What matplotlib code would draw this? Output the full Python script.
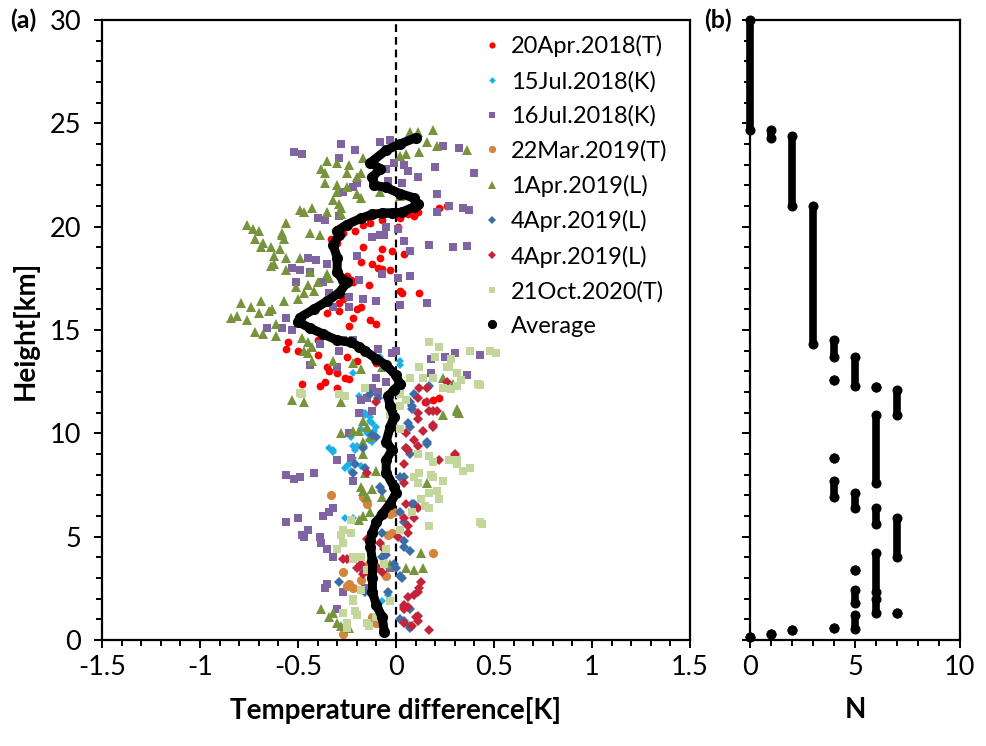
import matplotlib
matplotlib.use('Agg')
import matplotlib.pyplot as plt
import numpy as np

plt.rcParams['font.family'] = ['Lato', 'DejaVu Sans']

# ---- panel (a): temperature difference (K) vs height (km) per sounding ----
apr20_2018 = np.array([
    (0.22, 20.9), (0.26, 21.0), (0.11, 20.7), (0.06, 20.6), (0.09, 20.5), (0.02, 20.4), (-0.07, 20.3),
    (-0.13, 20.2), (-0.17, 20.1), (-0.21, 19.8), (-0.27, 19.7), (0.01, 20.0), (-0.33, 19.4), (-0.30, 19.2),
    (-0.17, 19.0), (-0.07, 18.9), (-0.02, 18.8), (0.04, 18.7), (-0.08, 18.5), (-0.18, 18.3), (-0.12, 18.2),
    (-0.09, 18.0), (-0.07, 17.95), (-0.03, 17.9), (-0.25, 17.6), (-0.23, 17.4), (-0.14, 17.2), (-0.22, 17.3),
    (0.02, 16.9), (0.03, 16.8), (0.12, 16.8), (-0.27, 16.5), (-0.29, 16.3), (-0.18, 16.1), (-0.20, 16.0),
    (-0.35, 15.8), (-0.29, 15.9), (-0.22, 15.6), (-0.13, 15.5), (-0.10, 15.3), (-0.24, 15.2), (-0.40, 14.5),
    (-0.55, 14.4), (-0.56, 14.1), (-0.50, 14.0), (-0.40, 13.8), (-0.25, 13.7), (-0.20, 13.5), (-0.35, 13.2),
    (-0.34, 13.0), (-0.30, 12.9), (-0.26, 12.7), (-0.24, 12.65), (-0.48, 12.4), (-0.39, 12.3), (-0.36, 12.5),
    (-0.30, 12.2), (0.19, 11.6), (0.22, 11.7), (0.15, 11.5), (-0.10, 13.4), (-0.12, 12.2)])

jul15_2018 = np.array([
    (0.02, 13.5), (-0.08, 13.7), (-0.22, 12.9), (-0.19, 11.8), (-0.17, 11.0), (-0.16, 10.9), (-0.13, 10.6),
    (-0.12, 10.5), (-0.10, 10.3), (-0.18, 10.2), (-0.34, 9.3), (-0.32, 9.2), (-0.23, 9.8), (-0.20, 9.4),
    (-0.14, 9.7), (-0.12, 9.6), (-0.22, 9.4), (-0.21, 9.2), (-0.32, 9.1), (-0.24, 8.5), (-0.26, 8.3),
    (-0.23, 8.2), (-0.22, 8.8), (-0.25, 8.4), (-0.18, 8.4), (-0.16, 11.0), (-0.13, 10.8), (-0.26, 5.9),
    (-0.22, 5.9), (-0.11, 5.2), (-0.07, 1.9), (-0.02, 3.6), (-0.04, 2.2), (0.02, 13.3), (-0.15, 10.0),
    (-0.11, 10.1)])

jul16_2018 = np.array([
    (-0.52, 23.6), (-0.48, 23.5), (-0.28, 24.0), (-0.21, 23.7), (-0.08, 24.1), (-0.03, 24.2), (-0.29, 23.3),
    (-0.01, 23.1), (0.04, 23.0), (-0.05, 22.8), (0.06, 22.7), (0.20, 22.9), (0.24, 23.9), (0.32, 23.8),
    (0.11, 22.4), (0.03, 22.1), (-0.04, 22.2), (-0.20, 22.1), (-0.27, 21.7), (-0.22, 21.9), (0.21, 21.6),
    (0.27, 21.0), (0.34, 20.9), (0.37, 20.8), (0.21, 20.7), (-0.40, 20.4), (-0.36, 20.3), (-0.29, 20.5),
    (-0.05, 20.7), (0.40, 22.6), (-0.05, 20.0), (0.01, 19.9), (-0.06, 19.6), (-0.12, 19.5), (-0.08, 19.6),
    (0.04, 19.3), (0.17, 19.1), (0.29, 19.0), (0.36, 19.05), (0.07, 18.8), (-0.20, 18.6), (-0.45, 18.5),
    (-0.41, 18.4), (-0.35, 18.2), (-0.53, 18.0), (-0.49, 17.9), (-0.44, 17.8), (-0.07, 17.7), (0.01, 17.5),
    (0.07, 17.6), (-0.19, 17.4), (-0.51, 17.3), (-0.37, 17.3), (-0.34, 16.8), (-0.24, 16.6), (-0.17, 16.5),
    (-0.10, 16.4), (0.02, 16.2), (0.16, 16.3), (-0.32, 16.1), (-0.24, 16.1), (-0.56, 15.6), (-0.53, 15.0),
    (-0.58, 15.1), (-0.66, 15.1), (-0.39, 14.3), (-0.27, 14.5), (-0.22, 14.5), (-0.09, 14.1), (0.0, 14.0),
    (-0.29, 14.0), (-0.02, 13.9), (0.18, 13.6), (0.25, 13.7), (0.30, 13.9), (0.43, 13.8), (-0.44, 13.3),
    (-0.30, 13.2), (-0.10, 12.7), (0.18, 12.9), (0.36, 12.8), (-0.12, 12.2), (-0.09, 12.0), (-0.15, 11.7),
    (-0.12, 11.1), (-0.19, 11.0), (-0.18, 11.6), (-0.30, 8.7), (-0.23, 8.8), (-0.22, 7.7), (-0.42, 8.1),
    (-0.56, 8.0), (-0.52, 7.8), (-0.49, 7.9), (-0.37, 6.0), (-0.32, 6.4), (-0.34, 6.2), (-0.56, 5.7),
    (-0.50, 5.9), (-0.45, 5.3), (-0.48, 5.1), (-0.39, 5.0), (-0.47, 5.0), (-0.38, 4.7), (-0.35, 4.4),
    (-0.32, 4.0), (-0.35, 2.7), (-0.36, 2.5), (-0.27, 2.3), (-0.30, 1.5), (-0.17, 3.5), (-0.16, 2.5),
    (-0.03, 3.5), (-0.10, 1.7), (-0.24, 10.0), (-0.05, 12.5)])

mar22_2019 = np.array([
    (-0.33, 7.0), (-0.17, 6.9), (-0.15, 6.6), (-0.01, 6.2), (0.19, 4.2), (-0.27, 3.3), (-0.25, 2.6),
    (-0.22, 2.5), (-0.18, 2.9), (-0.12, 1.1), (-0.08, 0.8), (-0.06, 0.5), (-0.27, 0.3), (-0.05, 3.1),
    (-0.14, 3.7), (-0.02, 5.2), (-0.24, 2.7), (-0.10, 0.8), (-0.03, 6.1), (-0.04, 5.1), (-0.16, 6.8)])

apr01_2019 = np.array([
    (0.07, 24.6), (0.11, 24.6), (0.19, 24.7), (0.16, 24.1), (0.21, 23.9), (0.12, 23.6), (0.36, 23.7),
    (0.02, 23.4), (0.05, 23.5), (-0.17, 23.3), (-0.35, 23.2), (-0.30, 23.1), (-0.38, 22.8), (-0.36, 22.6),
    (-0.24, 23.0), (-0.25, 22.6), (-0.20, 22.4), (-0.18, 22.6), (-0.30, 22.0), (-0.36, 22.1), (-0.25, 21.9),
    (-0.20, 21.6), (-0.30, 21.7), (-0.18, 21.4), (-0.08, 21.7), (0.02, 21.5), (-0.32, 21.3), (-0.29, 21.1),
    (-0.28, 20.9), (-0.43, 20.9), (-0.49, 20.8), (-0.47, 20.7), (-0.35, 20.7), (-0.28, 20.6), (-0.76, 20.1),
    (-0.73, 19.9), (-0.70, 19.8), (-0.56, 20.2), (-0.58, 19.7), (-0.58, 19.6), (-0.57, 19.4), (-0.72, 19.4),
    (-0.68, 19.2), (-0.69, 19.0), (-0.64, 19.0), (-0.59, 18.9), (-0.62, 18.6), (-0.56, 18.5), (-0.49, 18.5),
    (-0.64, 18.1), (-0.62, 18.2), (-0.56, 17.9), (-0.44, 19.7), (-0.39, 19.6), (-0.35, 17.7), (-0.34, 17.5),
    (-0.44, 17.8), (-0.40, 17.3), (-0.45, 17.2), (-0.51, 17.1), (-0.47, 16.8), (-0.42, 16.9), (-0.57, 16.4),
    (-0.50, 16.5), (-0.79, 16.3), (-0.74, 16.1), (-0.69, 16.4), (-0.63, 16.0), (-0.84, 15.6), (-0.81, 15.7),
    (-0.76, 15.5), (-0.70, 15.8), (-0.65, 15.9), (-0.61, 15.3), (-0.72, 14.9), (-0.68, 14.8), (-0.61, 14.7),
    (-0.48, 14.6), (-0.45, 14.4), (-0.43, 14.2), (-0.47, 14.0), (-0.45, 13.9), (-0.43, 13.5), (-0.32, 13.5),
    (-0.22, 13.4), (-0.18, 13.1), (-0.07, 13.2), (-0.53, 11.6), (-0.47, 11.5), (-0.28, 11.5), (0.24, 12.7),
    (0.29, 12.4), (0.31, 11.2), (0.32, 11.0), (0.24, 10.9), (-0.17, 10.6), (-0.15, 10.3), (-0.19, 10.1),
    (-0.28, 10.0), (-0.22, 10.1), (-0.13, 9.8), (-0.17, 9.6), (-0.18, 7.4), (-0.17, 7.2), (-0.12, 7.3),
    (-0.15, 6.9), (-0.07, 6.9), (-0.17, 6.0), (-0.19, 5.8), (-0.13, 6.2), (0.16, 7.6), (-0.10, 8.2),
    (-0.16, 8.1), (-0.17, 9.0), (0.13, 4.2), (0.09, 3.4), (0.05, 3.5), (-0.38, 1.5), (-0.32, 1.3),
    (-0.34, 1.1), (-0.28, 0.7), (-0.24, 0.6), (-0.12, 4.2), (-0.03, 3.7), (0.31, 11.1), (0.14, 3.5),
    (-0.30, 0.8)])

apr04_2019_a = np.array([
    (0.07, 11.5), (0.08, 11.3), (0.17, 12.3), (-0.13, 11.9), (-0.09, 11.7), (0.06, 10.5), (0.07, 10.3),
    (0.16, 9.6), (-0.12, 9.9), (-0.10, 9.8), (-0.17, 9.3), (0.05, 9.3), (0.16, 9.5), (-0.21, 8.5),
    (-0.22, 8.1), (-0.08, 7.4), (-0.07, 7.2), (0.04, 7.9), (0.08, 6.6), (0.02, 6.2), (-0.16, 8.3),
    (0.04, 5.7), (-0.07, 4.0), (-0.05, 4.1), (0.04, 4.5), (0.0, 3.5), (0.02, 3.1), (0.03, 3.0),
    (-0.29, 2.8), (-0.17, 2.4), (-0.16, 2.3), (-0.04, 2.3), (0.04, 1.6), (0.07, 1.5), (0.04, 0.9),
    (0.07, 0.7), (0.02, 12.2), (0.09, 11.9), (0.08, 11.2), (0.07, 9.0), (0.02, 7.9), (0.09, 6.6),
    (0.04, 4.8), (0.07, 4.3), (-0.01, 3.7), (0.02, 1.0), (0.07, 0.6), (-0.07, 5.2)])

apr04_2019_b = np.array([
    (0.12, 12.2), (0.16, 12.2), (0.26, 12.5), (0.11, 11.7), (0.11, 11.0), (0.11, 10.7), (0.19, 11.1),
    (0.16, 11.5), (-0.10, 11.5), (0.14, 10.1), (0.19, 10.4), (0.09, 9.7), (0.11, 9.4), (0.05, 10.0),
    (0.30, 9.0), (0.05, 9.3), (0.06, 9.2), (0.04, 8.5), (-0.15, 8.1), (0.30, 8.9), (0.22, 8.7),
    (0.04, 7.6), (0.05, 6.6), (0.11, 6.4), (0.04, 5.9), (0.06, 5.2), (-0.15, 4.9), (-0.06, 4.4),
    (-0.27, 3.9), (-0.20, 3.5), (-0.17, 3.2), (0.04, 1.7), (0.06, 2.1), (0.11, 2.3), (0.13, 2.8),
    (0.04, 1.5), (0.10, 1.1), (0.11, 0.9), (0.08, 0.7), (-0.09, 3.5), (-0.07, 3.3), (0.17, 0.5),
    (0.17, 11.1), (0.19, 10.3), (0.21, 11.1), (0.09, 5.9), (0.06, 5.5), (0.01, 5.0), (-0.08, 4.7),
    (-0.25, 3.9), (-0.18, 3.7), (-0.13, 3.2), (0.09, 2.2), (0.12, 2.5), (0.06, 1.6), (0.11, 1.15),
    (0.04, 0.8)])

oct21_2020 = np.array([
    (0.17, 14.4), (0.22, 14.2), (0.38, 14.0), (0.48, 14.0), (0.51, 13.9), (0.28, 13.6), (0.20, 13.7),
    (0.12, 13.2), (0.27, 13.2), (0.14, 12.7), (0.33, 12.6), (0.42, 12.4), (0.07, 12.7), (0.24, 12.2),
    (0.31, 12.3), (-0.16, 12.2), (-0.29, 11.9), (-0.26, 11.8), (-0.48, 11.9), (0.02, 11.9), (0.05, 11.6),
    (-0.03, 10.9), (0.31, 12.9), (0.26, 13.2), (0.19, 12.7), (0.43, 12.35), (0.28, 12.15), (-0.49, 11.95),
    (0.02, 11.3), (0.02, 10.2), (-0.05, 9.5), (0.17, 8.9), (0.19, 8.6), (0.31, 8.7), (0.38, 8.3),
    (0.11, 9.0), (0.09, 7.9), (0.19, 7.9), (0.11, 7.6), (0.17, 7.1), (0.21, 7.2), (0.13, 6.8),
    (0.17, 6.4), (0.43, 5.7), (0.17, 5.5), (0.02, 5.3), (-0.27, 5.3), (-0.23, 5.2), (-0.30, 4.4),
    (-0.22, 3.9), (-0.27, 4.7), (-0.15, 3.4), (-0.18, 2.4), (-0.22, 1.9), (-0.27, 1.3), (-0.20, 1.2),
    (-0.25, 0.8), (-0.15, 0.8), (-0.10, 1.1), (-0.03, 1.9), (-0.05, 4.4), (0.18, 8.0), (0.24, 7.7),
    (0.12, 8.1), (0.34, 8.2), (0.27, 8.7), (0.31, 8.5), (0.22, 6.8), (0.15, 6.5), (0.08, 6.2),
    (0.44, 5.6), (-0.23, 5.8), (-0.28, 5.1), (-0.22, 4.0), (-0.18, 4.0), (-0.06, 3.7), (-0.22, 2.0),
    (-0.21, 1.4), (-0.14, 0.7), (-0.25, 0.6)])

# average profile
avg_dt = [-0.06, -0.07, -0.10, -0.12, -0.12, -0.12, -0.13, -0.13, -0.12, -0.10, -0.07, -0.03, 0.0, -0.01,
          -0.05, -0.05, -0.02, -0.05, -0.03, -0.01, -0.03, -0.04, -0.01, 0.02, 0.0, -0.05, -0.10, -0.16,
          -0.19, -0.23, -0.30, -0.37, -0.44, -0.50, -0.49, -0.42, -0.35, -0.29, -0.25, -0.27, -0.30, -0.30,
          -0.32, -0.29, -0.30, -0.25, -0.18, -0.12, -0.07, -0.02, 0.03, 0.09, 0.11, 0.09, 0.02, -0.05,
          -0.11, -0.12, -0.08, -0.13, -0.05, 0.02, 0.10]
avg_h = [0.4, 1.1, 1.7, 2.3, 3.0, 3.8, 4.5, 4.8, 5.2, 5.7, 6.1, 6.6, 7.1, 7.4,
         8.1, 8.7, 9.2, 9.6, 10.3, 10.8, 11.3, 11.8, 12.1, 12.4, 12.8, 13.3, 13.6, 14.0,
         14.2, 14.4, 14.5, 14.8, 15.1, 15.4, 15.6, 16.0, 16.4, 16.8, 17.3, 17.4, 17.8, 18.5,
         19.1, 19.6, 19.8, 20.1, 20.4, 20.6, 20.65, 20.65, 20.7, 20.95, 21.1, 21.4, 21.6, 21.9,
         22.0, 22.4, 22.8, 23.1, 23.7, 24.0, 24.3]

# ---- panel (b): number of soundings N per height ----
n_count = [0, 1, 2, 3, 4, 4, 5, 6, 7, 6, 4, 4, 5, 6, 7, 6, 5, 5, 6, 7, 5, 4, 2, 1, 0]
n_bottom = [24.7, 24.3, 21.0, 14.3, 13.7, 12.6, 12.3, 12.26, 10.9, 7.6, 8.8, 6.9, 6.4, 5.6, 4.0,
            2.3, 3.4, 1.8, 1.3, 1.3, 0.55, 0.58, 0.48, 0.3, 0.15]
n_top = [30.0, 24.7, 24.4, 21.0, 14.5, 12.6, 13.7, 12.26, 12.1, 10.9, 8.8, 7.7, 7.1, 6.4, 5.9,
         4.2, 3.4, 2.4, 2.0, 1.3, 1.2, 0.58, 0.48, 0.3, 0.15]

series = [
    (apr20_2018, '20Apr.2018(T)', 'o', '#FF0000', 5.6),
    (jul15_2018, '15Jul.2018(K)', 'D', '#1CB0E8', 4.2),
    (jul16_2018, '16Jul.2018(K)', 's', '#8064A2', 5.8),
    (mar22_2019, '22Mar.2019(T)', 'o', '#D5843C', 6.6),
    (apr01_2019, '1Apr.2019(L)', '^', '#77933C', 6.8),
    (apr04_2019_a, '4Apr.2019(L)', 'D', '#3D6DA6', 5.2),
    (apr04_2019_b, '4Apr.2019(L)', 'D', '#C4243A', 5.2),
    (oct21_2020, '21Oct.2020(T)', 's', '#C3D69B', 6.2),
]

fig = plt.figure(figsize=(9.86, 7.46), dpi=100)
ax = fig.add_axes([0.1034, 0.1421, 0.5964, 0.8311])
bx = fig.add_axes([0.7606, 0.1421, 0.2130, 0.8311])

ax.axvline(0, color='k', lw=1.6, ls=(0, (3.5, 2.2)), zorder=1)
for data, lab, mk, col, ms in series:
    ax.plot(data[:, 0], data[:, 1], ls='none', marker=mk, ms=ms, color=col,
            mec=col, mew=0, label=lab, zorder=2)
ax.plot(avg_dt, avg_h, '-', color='k', lw=6.5, solid_capstyle='round',
        solid_joinstyle='round', zorder=3)
ax.plot(avg_dt, avg_h, ls='none', marker='o', ms=7, color='k', label='Average', zorder=3)

ax.set_xlim(-1.5, 1.5)
ax.set_ylim(0, 30)
ax.set_xticks(np.arange(-1.5, 1.51, 0.5))
ax.set_xticklabels(['-1.5', '-1', '-0.5', '0', '0.5', '1', '1.5'])
ax.set_xticks(np.arange(-1.5, 1.51, 0.1), minor=True)
ax.set_yticks(np.arange(0, 31, 5))
ax.set_yticks(np.arange(0, 31, 1), minor=True)
ax.set_xlabel('Temperature difference[K]', fontsize=20, fontweight='bold', labelpad=12)
ax.set_ylabel('Height[km]', fontsize=20, fontweight='bold', labelpad=8)

leg = ax.legend(loc='upper right', frameon=False, fontsize=17, markerscale=0.8,
                handlelength=0.5, handletextpad=0.55, labelspacing=0.56,
                borderaxespad=0.25, bbox_to_anchor=(0.988, 1.0))

for i in range(len(n_count)):
    bx.plot([n_count[i], n_count[i]], [n_bottom[i], n_top[i]], '-', color='k', lw=5.5,
            solid_capstyle='round', marker='o', ms=6.2, zorder=3, clip_on=False)
bx.set_xlim(0, 10)
bx.set_ylim(0, 30)
bx.set_xticks([0, 5, 10])
bx.set_xticks(np.arange(0, 11, 1), minor=True)
bx.set_yticks(np.arange(0, 31, 5))
bx.set_yticks(np.arange(0, 31, 1), minor=True)
bx.set_yticklabels([])
bx.set_xlabel('N', fontsize=20, fontweight='bold', labelpad=12)

for a in (ax, bx):
    for s in a.spines.values():
        s.set_linewidth(1.6)
    a.tick_params(which='major', direction='out', length=6, width=1.4, labelsize=19.5)
    a.tick_params(which='minor', direction='out', length=4.5, width=1.4)
    a.tick_params(axis='x', which='major', pad=5)
    a.tick_params(axis='y', which='major', pad=9)

fig.text(0.010, 0.973, '(a)', fontsize=18, fontweight='bold', va='center')
fig.text(0.714, 0.973, '(b)', fontsize=18, fontweight='bold', va='center')

fig.savefig('out.png', dpi=100)
